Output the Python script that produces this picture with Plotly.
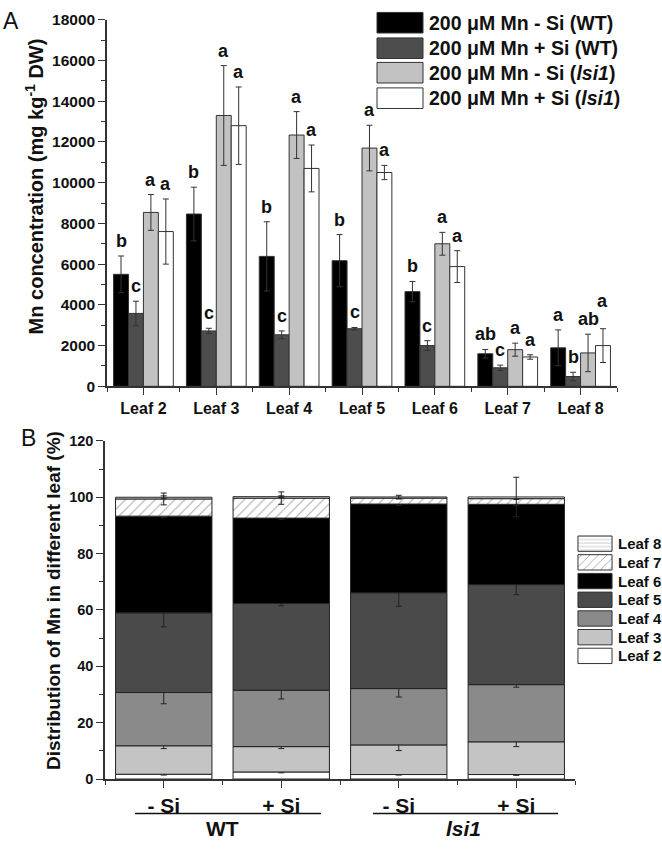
import plotly.graph_objects as go

# ---------------- Data: panel A ----------------
leaves_a = ["Leaf 2", "Leaf 3", "Leaf 4", "Leaf 5", "Leaf 6", "Leaf 7", "Leaf 8"]
series_names = ["200 μM Mn - Si (WT)", "200 μM Mn + Si (WT)",
                "200 μM Mn - Si (<i>lsi1</i>)", "200 μM Mn + Si (<i>lsi1</i>)"]
wt_minus_si = [5500, 8460, 6380, 6170, 4650, 1600, 1890]
wt_minus_si_sd = [900, 1320, 1700, 1280, 500, 210, 880]
wt_plus_si = [3580, 2720, 2530, 2830, 2000, 910, 480]
wt_plus_si_sd = [600, 130, 190, 60, 240, 130, 210]
lsi_minus_si = [8540, 13300, 12340, 11700, 7000, 1800, 1640]
lsi_minus_si_sd = [880, 2450, 1150, 1120, 560, 320, 920]
lsi_plus_si = [7600, 12800, 10700, 10500, 5880, 1440, 2000]
lsi_plus_si_sd = [1600, 1900, 1150, 350, 780, 110, 830]
letters_wt_minus = ["b", "b", "b", "b", "b", "ab", "a"]
letters_wt_plus = ["c", "c", "c", "c", "c", "c", "b"]
letters_lsi_minus = ["a", "a", "a", "a", "a", "a", "ab"]
letters_lsi_plus = ["a", "a", "a", "a", "a", "a", "a"]

# ---------------- Data: panel B ----------------
groups_b = ["- Si", "+ Si", "- Si", "+ Si"]
genotypes_b = ["WT", "<i>lsi1</i>"]
leaf_names_b = ["Leaf 2", "Leaf 3", "Leaf 4", "Leaf 5", "Leaf 6", "Leaf 7", "Leaf 8"]
# percentage of each leaf, per treatment (WT -Si, WT +Si, lsi1 -Si, lsi1 +Si)
pct_leaf2 = [1.7, 2.5, 1.6, 1.6]
pct_leaf3 = [10.1, 9.0, 10.5, 11.6]
pct_leaf4 = [18.9, 20.0, 20.0, 20.3]
pct_leaf5 = [28.3, 30.8, 34.0, 35.5]
pct_leaf6 = [34.3, 30.3, 31.5, 28.5]
pct_leaf7 = [6.1, 7.1, 2.1, 2.0]
pct_leaf8 = [0.6, 0.5, 0.4, 0.6]
sd_leaf2 = [0.3, 0.3, 0.2, 0.3]
sd_leaf3 = [1.0, 0.7, 2.0, 1.7]
sd_leaf4 = [4.0, 3.1, 3.0, 0.9]
sd_leaf5 = [5.0, 0.8, 4.8, 3.6]
sd_leaf6 = [0.5, 0.5, 0.5, 0.5]
sd_leaf7 = [2.1, 2.2, 0.3, 0.3]
sd_leaf8 = [0.5, 0.3, 0.6, 7.0]

# ---------------- Styles ----------------
FONT = "Liberation Sans, Arial, sans-serif"
W, H = 662, 852
BARGAP = 0.18
colors_a = ["#000000", "#4d4d4d", "#c2c2c2", "#ffffff"]
colors_b = ["#ffffff", "#c4c4c4", "#8a8a8a", "#4a4a4a", "#000000", "#ffffff", "#ffffff"]
patterns_b = ["", "", "", "", "", "/", "-"]
pat_size_b = [8, 8, 8, 8, 8, 7, 4]

A_TOP, A_BOT = 11, 385  # pixel rows of panel A plot area
A_YMAX = 18000


def px(xp):
    return xp / W


def py(yp):
    return 1 - yp / H


fig = go.Figure()

# ---------------- Panel A ----------------
vals_a = [wt_minus_si, wt_plus_si, lsi_minus_si, lsi_plus_si]
sds_a = [wt_minus_si_sd, wt_plus_si_sd, lsi_minus_si_sd, lsi_plus_si_sd]
letters_a = [letters_wt_minus, letters_wt_plus, letters_lsi_minus, letters_lsi_plus]
xpos = list(range(len(leaves_a)))
for j in range(4):
    fig.add_trace(go.Bar(
        x=xpos, y=vals_a[j], name=series_names[j], offsetgroup=str(j),
        marker=dict(color=colors_a[j], line=dict(color="#333333", width=1)),
        error_y=dict(type="data", array=sds_a[j], color="#333333", thickness=1, width=3),
        xaxis="x", yaxis="y", showlegend=False,
    ))

bw = (1 - BARGAP) / 4
ppu = (A_BOT - A_TOP) / A_YMAX  # pixels per data unit
for i in range(len(leaves_a)):
    prev_bottom = None
    prev_wide = False
    for j in range(4):
        top = vals_a[j][i] + sds_a[j][i]
        bottom_px = top * ppu + 3
        shift = 3
        # avoid collision with a neighbouring wide label that sits at a similar height
        if (prev_bottom is not None and prev_wide
                and bottom_px > prev_bottom - 8 and bottom_px < prev_bottom + 18):
            shift += (prev_bottom + 18) - bottom_px
            bottom_px = prev_bottom + 18
        fig.add_annotation(
            x=i + (j - 1.5) * bw, y=top, xref="x", yref="y",
            text="<b>%s</b>" % letters_a[j][i], showarrow=False, yanchor="bottom",
            xanchor="center", yshift=shift, font=dict(family=FONT, size=18, color="#111"),
        )
        prev_bottom = bottom_px
        prev_wide = len(letters_a[j][i]) > 1

# ---------------- Panel B ----------------
pcts = [pct_leaf2, pct_leaf3, pct_leaf4, pct_leaf5, pct_leaf6, pct_leaf7, pct_leaf8]
sds_b = [sd_leaf2, sd_leaf3, sd_leaf4, sd_leaf5, sd_leaf6, sd_leaf7, sd_leaf8]
xb = list(range(len(groups_b)))
base = [0.0] * len(groups_b)
for k, name in enumerate(leaf_names_b):
    marker = dict(color=colors_b[k], line=dict(color="#222222", width=1))
    if patterns_b[k]:
        marker["pattern"] = dict(shape=patterns_b[k], fgcolor="#555555", bgcolor="#ffffff",
                                 size=pat_size_b[k], solidity=0.15, fillmode="overlay")
    fig.add_trace(go.Bar(
        x=xb, y=pcts[k], base=list(base), name=name, offsetgroup="stack",
        marker=marker,
        error_y=dict(type="data", array=sds_b[k], color="#222222", thickness=1, width=3),
        xaxis="x2", yaxis="y2", showlegend=False,
    ))
    base = [b + v for b, v in zip(base, pcts[k])]

# legend swatches for panel B (auxiliary hidden axis)
fig.add_trace(go.Bar(
    x=[1] * len(leaf_names_b), y=leaf_names_b, orientation="h",
    marker=dict(color=colors_b, line=dict(color="#333333", width=1),
                pattern=dict(shape=patterns_b, fgcolor="#555555", bgcolor="#ffffff",
                             size=[8, 8, 8, 8, 8, 6, 3.5], solidity=0.15, fillmode="overlay")),
    xaxis="x3", yaxis="y3", showlegend=False, hoverinfo="skip",
))
for name in leaf_names_b:
    fig.add_annotation(x=px(616), y=name, xref="paper", yref="y3", text="<b>%s</b>" % name,
                       showarrow=False, xanchor="left", yanchor="middle",
                       font=dict(family=FONT, size=15, color="#111"))

# legend for panel A (boxes + text)
row_c = [14, 40, 65, 91]
for j in range(4):
    fig.add_shape(type="rect", xref="paper", yref="paper",
                  x0=px(377), x1=px(423), y0=py(row_c[j] - 10.5), y1=py(row_c[j] + 10.5),
                  fillcolor=colors_a[j], line=dict(color="#333333", width=1))
    fig.add_annotation(x=px(427), y=py(row_c[j]), xref="paper", yref="paper",
                       text="<b>%s</b>" % series_names[j], showarrow=False, xanchor="left",
                       yanchor="middle", font=dict(family=FONT, size=19.5, color="#111"))

# group labels panel B
for x0, x1 in [(135, 321), (373, 558)]:
    fig.add_shape(type="line", xref="paper", yref="paper", x0=px(x0), x1=px(x1),
                  y0=py(821), y1=py(821), line=dict(color="#111", width=1.5))
for gx, g in zip([0.5, 2.55], genotypes_b):
    fig.add_annotation(x=gx, y=py(836), xref="x2", yref="paper", text="<b>%s</b>" % g,
                       showarrow=False, yanchor="middle", xanchor="center",
                       font=dict(family=FONT, size=21, color="#111"))

# panel letters and axis titles
fig.add_annotation(x=px(11), y=py(12), xref="paper", yref="paper", text="A", showarrow=False,
                   xanchor="center", yanchor="middle",
                   font=dict(family=FONT, size=23, color="#111"))
fig.add_annotation(x=px(28), y=py(438), xref="paper", yref="paper", text="B", showarrow=False,
                   xanchor="center", yanchor="middle",
                   font=dict(family=FONT, size=23, color="#111"))
fig.add_annotation(x=px(34), y=py(181), xref="paper", yref="paper", textangle=-90,
                   text="<b>Mn concentration (mg kg<sup>-1</sup> DW)</b>", showarrow=False,
                   xanchor="center", yanchor="middle",
                   font=dict(family=FONT, size=20, color="#111"))
fig.add_annotation(x=px(54), y=py(604), xref="paper", yref="paper", textangle=-90,
                   text="<b>Distribution of Mn in different leaf (%)</b>", showarrow=False,
                   xanchor="center", yanchor="middle",
                   font=dict(family=FONT, size=19, color="#111"))

axis_common = dict(showline=True, linecolor="#333333", linewidth=1.5, showgrid=False,
                   zeroline=False, ticks="outside", tickcolor="#333333", tickwidth=1.2,
                   mirror=False)

fig.update_layout(
    width=W, height=H, margin=dict(l=0, r=0, t=0, b=0),
    paper_bgcolor="white", plot_bgcolor="white",
    barmode="group", bargap=BARGAP, bargroupgap=0,
    font=dict(family=FONT, color="#111"),
    xaxis=dict(domain=[px(107), px(617)], range=[-0.5, 6.5], anchor="y",
               tickmode="array", tickvals=xpos, ticktext=leaves_a, ticklen=7,
               tickfont=dict(family=FONT, size=16, weight="bold"),
               minor=dict(tickmode="array", tickvals=[i + 0.5 for i in range(-1, 7)],
                          ticklen=4, ticks="outside", tickcolor="#333333"),
               **axis_common),
    yaxis=dict(domain=[py(A_BOT), py(A_TOP)], range=[0, A_YMAX], anchor="x",
               dtick=2000, tickformat="d", ticklen=7,
               tickfont=dict(family=FONT, size=15.5, weight="bold"),
               minor=dict(dtick=1000, ticklen=4, ticks="outside", tickcolor="#333333"),
               **axis_common),
    xaxis2=dict(domain=[px(105), px(575)], range=[-0.5, 3.5], anchor="y2",
                tickmode="array", tickvals=xb, ticktext=groups_b, ticklen=7,
                tickfont=dict(family=FONT, size=21, weight="bold"),
                minor=dict(tickmode="array", tickvals=[i + 0.5 for i in range(-1, 4)],
                           ticklen=4, ticks="outside", tickcolor="#333333"),
                **axis_common),
    yaxis2=dict(domain=[py(785.7), py(440.7)], range=[0, 120], anchor="x2",
                dtick=20, ticklen=7,
                tickfont=dict(family=FONT, size=14.5, weight="bold"),
                minor=dict(dtick=10, ticklen=4, ticks="outside", tickcolor="#333333"),
                **axis_common),
    xaxis3=dict(domain=[px(576.6), px(613.4)], range=[-0.04, 1.04], anchor="y3",
                visible=False, fixedrange=True),
    yaxis3=dict(domain=[py(669.6), py(536)], range=[-0.5, 6.5], anchor="x3",
                visible=False, fixedrange=True, type="category"),
)

fig.write_html(
    "out.html",
    config={"displayModeBar": False},
    post_script="document.body.style.margin='0px';document.body.style.overflow='hidden';",
)
